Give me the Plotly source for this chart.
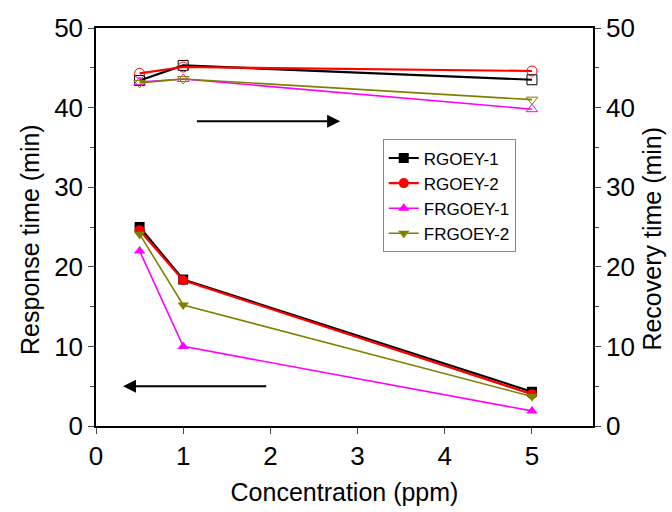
import plotly.graph_objects as go

conc = [0.5, 1, 5]
names = ["RGOEY-1", "RGOEY-2", "FRGOEY-1", "FRGOEY-2"]
colors = ["#000000", "#ff0000", "#ff00ff", "#808000"]
resp = {
    "RGOEY-1": [25.0, 18.4, 4.3],
    "RGOEY-2": [24.6, 18.3, 4.0],
    "FRGOEY-1": [22.0, 10.0, 1.9],
    "FRGOEY-2": [24.1, 15.2, 3.7],
}
recov = {
    "RGOEY-1": [43.4, 45.3, 43.5],
    "RGOEY-2": [44.3, 45.1, 44.6],
    "FRGOEY-1": [43.2, 43.6, 39.8],
    "FRGOEY-2": [43.1, 43.6, 41.0],
}
filled = ["square", "circle", "triangle-up", "triangle-down"]
opened = ["square-open", "circle-open", "triangle-up-open", "triangle-down-open"]
widths = [2.2, 2.2, 1.6, 1.6]

fig = go.Figure()
for n, c, fs, os_, w in zip(names, colors, filled, opened, widths):
    fig.add_trace(go.Scatter(x=conc, y=recov[n], mode="lines+markers", name=n,
                             line=dict(color=c, width=w),
                             marker=dict(symbol=os_, size=10, color=c, line=dict(width=1)),
                             showlegend=False, yaxis="y2"))
for n, c, fs, os_, w in zip(names, colors, filled, opened, widths):
    fig.add_trace(go.Scatter(x=conc, y=resp[n], mode="lines+markers", name=n,
                             line=dict(color=c, width=w),
                             marker=dict(symbol=fs, size=10, color=c)))

font = "Liberation Sans, Arial, sans-serif"
fig.update_layout(
    width=672, height=512,
    margin=dict(l=96, r=79, t=28, b=86, autoexpand=False),
    paper_bgcolor="white", plot_bgcolor="white",
    font=dict(family=font, color="black", size=26),
    xaxis=dict(range=[0, 5.7], tickvals=[0, 1, 2, 3, 4, 5], ticks="outside", ticklen=6,
               showline=True, linecolor="black", linewidth=1.5, mirror=True,
               showgrid=False, zeroline=False, tickfont=dict(size=26),
               title=dict(text="Concentration (ppm)", font=dict(size=25), standoff=14)),
    yaxis=dict(range=[0, 50], dtick=10, ticks="outside", ticklen=6,
               minor=dict(dtick=5, ticks="outside", ticklen=4),
               showline=True, linecolor="black", linewidth=1.5,
               showgrid=False, zeroline=False, tickfont=dict(size=26)),
    yaxis2=dict(range=[0, 50], dtick=10, ticks="outside", ticklen=6,
                minor=dict(dtick=5, ticks="outside", ticklen=4),
                overlaying="y", side="right",
                showline=True, linecolor="black", linewidth=1.5,
                showgrid=False, zeroline=False, tickfont=dict(size=26)),
    legend=dict(x=0.577, y=0.72, xanchor="left", yanchor="top",
                bordercolor="#888888", borderwidth=1, bgcolor="white",
                font=dict(size=17), tracegroupgap=0, itemwidth=30),
    showlegend=True,
)

fig.add_annotation(text="Response time (min)", x=-0.1328, y=0.47, xref="paper", yref="paper",
                   xanchor="center", yanchor="middle", textangle=-90, showarrow=False,
                   font=dict(size=25))
fig.add_annotation(text="Recovery time (min)", x=1.118, y=0.47, xref="paper", yref="paper",
                   xanchor="center", yanchor="middle", textangle=-90, showarrow=False,
                   font=dict(size=25))

fig.add_annotation(x=2.8, y=38.3, ax=1.14, ay=38.3, xref="x", yref="y", axref="x", ayref="y",
                   showarrow=True, arrowhead=2, arrowsize=1.3, arrowwidth=2, arrowcolor="black", text="")
fig.add_annotation(x=0.31, y=5.0, ax=1.97, ay=5.0, xref="x", yref="y", axref="x", ayref="y",
                   showarrow=True, arrowhead=2, arrowsize=1.3, arrowwidth=2, arrowcolor="black", text="")

fig.write_html("out.html")
